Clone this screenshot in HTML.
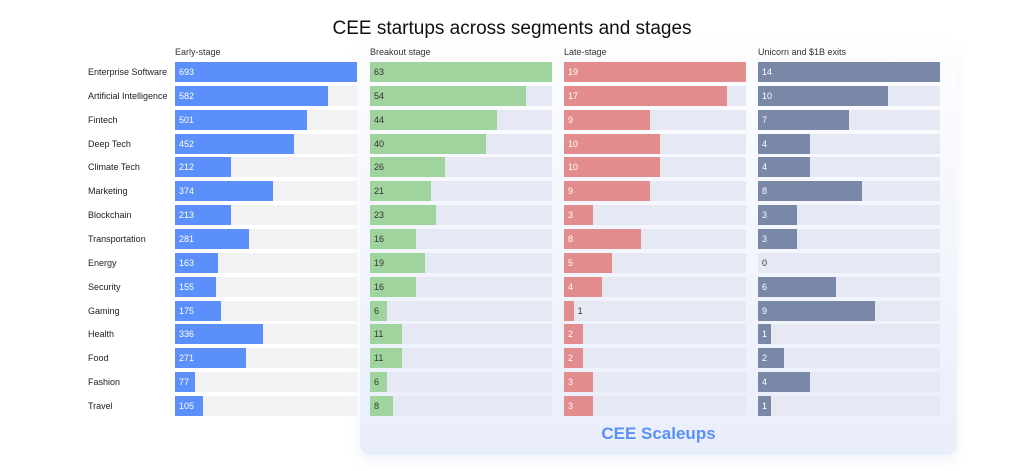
<!DOCTYPE html><html><head><style>
body{margin:0;width:1024px;height:471px;background:#fff;font-family:"Liberation Sans",sans-serif;position:relative;overflow:hidden}
.t{position:absolute;left:0;width:1024px;text-align:center;top:18px;font-size:19px;color:#111}
.box{position:absolute;left:360px;top:44px;width:597px;height:411px;border-radius:10px;background:linear-gradient(#fdfdff,#e9eefb);box-shadow:0 6px 14px rgba(120,140,200,.10)}
.sc{position:absolute;left:360px;width:597px;top:424px;text-align:center;font-size:17px;font-weight:bold;color:#5b8ff9}
.h{position:absolute;top:47px;font-size:9px;color:#333}
.lab{position:absolute;left:88px;font-size:9px;color:#222}
.tr{position:absolute;height:20px;width:182px}
.b{position:absolute;left:0;top:0;height:20px;font-size:9px;line-height:20px;text-indent:4px;white-space:nowrap}
</style></head><body>
<div class="t">CEE startups across segments and stages</div>
<div class="box"></div>
<div class="sc">CEE Scaleups</div>
<div id="c"></div>
<script>
const names=["Enterprise Software","Artificial Intelligence","Fintech","Deep Tech","Climate Tech","Marketing","Blockchain","Transportation","Energy","Security","Gaming","Health","Food","Fashion","Travel"];
const d=[[693,582,501,452,212,374,213,281,163,155,175,336,271,77,105],[63,54,44,40,26,21,23,16,19,16,6,11,11,6,8],[19,17,9,10,10,9,3,8,5,4,1,2,2,3,3],[14,10,7,4,4,8,3,3,0,6,9,1,2,4,1]];
const xs=[175,370,564,758],hd=["Early-stage","Breakout stage","Late-stage","Unicorn and $1B exits"];
const col=["#5b8ff9","#9fd49f","#e38c8e","#7a88a8"],tc=["#fff","#333","#fff","#fff"],bg=["#f2f2f4","#e6e9f3","#e6e9f3","#e6e9f3"];
let h="";
for(let p=0;p<4;p++){h+=`<div class="h" style="left:${xs[p]}px">${hd[p]}</div>`;
const m=Math.max(...d[p]);
for(let i=0;i<15;i++){const y=62+i*23.85,v=d[p][i],w=v/m*182;
if(p==0)h+=`<div class="lab" style="top:${y+5}px">${names[i]}</div>`;
const out=w<11;
h+=`<div class="tr" style="left:${xs[p]}px;top:${y}px;background:${bg[p]}"><div class="b" style="width:${w}px;background:${col[p]};color:${out?'#333':tc[p]};${out?'text-indent:'+(w+4)+'px':''}">${v}</div></div>`;}}
document.getElementById("c").innerHTML=h;
</script></body></html>
